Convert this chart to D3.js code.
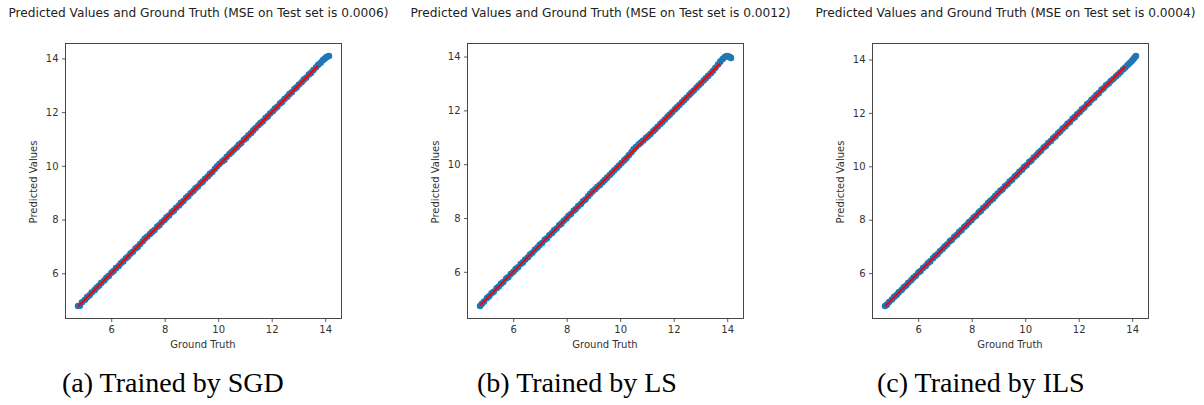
<!DOCTYPE html>
<html>
<head>
<meta charset="utf-8">
<script src="https://cdn.jsdelivr.net/npm/d3@7"></script>
<style>
  html, body { margin: 0; padding: 0; background: #fff; }
  svg { display: block; }
</style>
</head>
<body>
<svg id="fig" width="1204" height="405"></svg>
<script>
// Ground-truth targets of the test set (shared by all three models)
const groundTruth = [
  4.76, 4.83, 4.91, 5.02, 5.10, 5.19, 5.27, 5.38, 5.46, 5.55,
  5.63, 5.74, 5.82, 5.91, 6.01, 6.09, 6.18, 6.28, 6.36, 6.45,
  6.55, 6.63, 6.72, 6.81, 6.91, 6.99, 7.08, 7.18, 7.26, 7.35,
  7.45, 7.53, 7.62, 7.72, 7.80, 7.89, 7.99, 8.07, 8.16, 8.26,
  8.34, 8.43, 8.53, 8.61, 8.70, 8.80, 8.88, 8.97, 9.07, 9.15,
  9.24, 9.34, 9.42, 9.51, 9.61, 9.69, 9.78, 9.88, 9.96, 10.05,
  10.15, 10.23, 10.32, 10.42, 10.50, 10.59, 10.69, 10.77, 10.86, 10.96,
  11.04, 11.13, 11.23, 11.31, 11.40, 11.50, 11.58, 11.67, 11.77, 11.85,
  11.94, 12.04, 12.12, 12.21, 12.31, 12.39, 12.48, 12.58, 12.66, 12.75,
  12.85, 12.93, 13.02, 13.12, 13.20, 13.29, 13.39, 13.47, 13.56, 13.66,
  13.74, 13.83, 13.91, 13.98, 14.04, 14.09, 14.14
];

// Predictions of the model trained by SGD
const predSGD = [
  4.78, 4.79, 4.92, 5.01, 5.11, 5.18, 5.28, 5.37, 5.47, 5.54,
  5.64, 5.73, 5.83, 5.90, 6.02, 6.08, 6.19, 6.27, 6.37, 6.44,
  6.56, 6.62, 6.73, 6.80, 6.92, 6.98, 7.09, 7.19, 7.29, 7.37,
  7.46, 7.54, 7.61, 7.73, 7.79, 7.90, 7.98, 8.08, 8.15, 8.27,
  8.33, 8.44, 8.52, 8.62, 8.69, 8.81, 8.87, 8.98, 9.06, 9.16,
  9.23, 9.35, 9.41, 9.52, 9.60, 9.70, 9.77, 9.89, 9.98, 10.08,
  10.16, 10.22, 10.34, 10.44, 10.51, 10.60, 10.68, 10.78, 10.85, 10.97,
  11.03, 11.14, 11.22, 11.32, 11.41, 11.51, 11.59, 11.66, 11.78, 11.84,
  11.95, 12.03, 12.13, 12.20, 12.32, 12.38, 12.49, 12.57, 12.67, 12.74,
  12.86, 12.92, 13.03, 13.11, 13.21, 13.28, 13.40, 13.46, 13.57, 13.67,
  13.76, 13.84, 13.93, 13.99, 14.04, 14.07, 14.09
];

// Predictions of the model trained by LS
const predLS = [
  4.73, 4.81, 4.90, 5.03, 5.09, 5.20, 5.26, 5.39, 5.45, 5.56,
  5.62, 5.75, 5.81, 5.92, 6.00, 6.10, 6.17, 6.29, 6.35, 6.46,
  6.54, 6.64, 6.71, 6.82, 6.90, 7.00, 7.07, 7.19, 7.25, 7.36,
  7.44, 7.54, 7.61, 7.73, 7.79, 7.90, 7.98, 8.08, 8.15, 8.27,
  8.33, 8.44, 8.52, 8.62, 8.69, 8.81, 8.90, 8.99, 9.08, 9.16,
  9.23, 9.33, 9.41, 9.50, 9.60, 9.68, 9.77, 9.87, 9.95, 10.04,
  10.14, 10.22, 10.33, 10.44, 10.55, 10.64, 10.73, 10.80, 10.88, 10.97,
  11.04, 11.12, 11.22, 11.30, 11.39, 11.49, 11.57, 11.66, 11.76, 11.84,
  11.93, 12.03, 12.11, 12.20, 12.30, 12.38, 12.47, 12.57, 12.65, 12.74,
  12.84, 12.92, 13.01, 13.11, 13.19, 13.28, 13.38, 13.47, 13.58, 13.70,
  13.81, 13.91, 13.98, 14.02, 14.01, 13.98, 13.95
];

// Predictions of the model trained by ILS
const predILS = [
  4.77, 4.82, 4.92, 5.01, 5.11, 5.18, 5.28, 5.37, 5.47, 5.54,
  5.64, 5.73, 5.83, 5.90, 6.02, 6.08, 6.19, 6.27, 6.37, 6.44,
  6.56, 6.64, 6.71, 6.82, 6.90, 7.00, 7.07, 7.19, 7.25, 7.36,
  7.44, 7.54, 7.61, 7.73, 7.79, 7.90, 7.98, 8.08, 8.15, 8.27,
  8.33, 8.44, 8.52, 8.62, 8.71, 8.79, 8.89, 8.98, 9.08, 9.14,
  9.25, 9.33, 9.43, 9.50, 9.62, 9.68, 9.79, 9.87, 9.97, 10.04,
  10.16, 10.22, 10.33, 10.41, 10.51, 10.58, 10.70, 10.76, 10.87, 10.95,
  11.05, 11.12, 11.24, 11.30, 11.41, 11.49, 11.59, 11.66, 11.78, 11.84,
  11.95, 12.03, 12.13, 12.20, 12.32, 12.38, 12.49, 12.57, 12.67, 12.74,
  12.86, 12.92, 13.03, 13.10, 13.19, 13.27, 13.36, 13.44, 13.52, 13.62,
  13.70, 13.79, 13.87, 13.94, 14.01, 14.07, 14.13
];

// Identity reference line (predicted == ground truth)
const refX = [4.76, 13.73];
const refY = [4.76, 13.73];

const tickValues = [6, 8, 10, 12, 14];
const tickLabels = ["6", "8", "10", "12", "14"];

const mseValues = ["0.0006", "0.0012", "0.0004"];
const captions = ["(a) Trained by SGD", "(b) Trained by LS", "(c) Trained by ILS"];
const predictions = [predSGD, predLS, predILS];

const svg = d3.select("#fig");
const sans = "'DejaVu Sans', sans-serif";

const panelLeft = [65.5, 467.5, 872.5];
const captionLeft = [62, 477, 877];
const axTop = 43.5, axW = 276, axH = 275;

// matplotlib-style autoscale: data extent plus 5% margin on each side
function padded(values) {
  const [lo, hi] = d3.extent(values);
  const m = (hi - lo) * 0.05;
  return [lo - m, hi + m];
}

predictions.forEach((pred, i) => {
  const left = panelLeft[i];
  const g = svg.append("g").attr("transform", `translate(${left},${axTop})`);

  const x = d3.scaleLinear().domain(padded(groundTruth)).range([0, axW]);
  const y = d3.scaleLinear().domain(padded(pred)).range([axH, 0]);

  const pts = groundTruth.map((gt, k) => ({ gt, p: pred[k] }));

  // scatter of predictions against ground truth
  g.append("g")
    .selectAll("circle")
    .data(pts)
    .join("circle")
    .attr("cx", d => x(d.gt))
    .attr("cy", d => y(d.p))
    .attr("r", 3.3)
    .attr("fill", "#1f77b4");

  // red identity line
  g.append("path")
    .datum(refX.map((v, k) => [v, refY[k]]))
    .attr("fill", "none")
    .attr("stroke", "#ff0000")
    .attr("stroke-width", 2.1)
    .attr("d", d3.line().x(d => x(d[0])).y(d => y(d[1])));

  // axes
  const xAxis = d3.axisBottom(x).tickValues(tickValues)
    .tickFormat((d, k) => tickLabels[k]).tickSize(3.5).tickPadding(3.5);
  const yAxis = d3.axisLeft(y).tickValues(tickValues)
    .tickFormat((d, k) => tickLabels[k]).tickSize(3.5).tickPadding(3.5);

  const gx = g.append("g").attr("transform", `translate(0,${axH})`).call(xAxis);
  const gy = g.append("g").call(yAxis);
  [gx, gy].forEach(a => {
    a.select(".domain").remove();
    a.selectAll(".tick line").attr("stroke", "#333").attr("stroke-width", 0.8);
    a.selectAll(".tick text").attr("fill", "#333")
      .style("font-family", sans).style("font-size", "10px");
  });

  // frame
  g.append("rect")
    .attr("x", 0).attr("y", 0).attr("width", axW).attr("height", axH)
    .attr("fill", "none").attr("stroke", "#333").attr("stroke-width", 0.9);

  // axis labels
  g.append("text")
    .attr("x", axW / 2 - 0.5).attr("y", axH + 29)
    .attr("text-anchor", "middle")
    .attr("fill", "#333")
    .style("font-family", sans).style("font-size", "10px")
    .text("Ground Truth");

  g.append("text")
    .attr("transform", `translate(-28.5,${axH / 2 + 1}) rotate(-90)`)
    .attr("text-anchor", "middle")
    .attr("fill", "#333")
    .style("font-family", sans).style("font-size", "10px")
    .text("Predicted Values");

  // title
  svg.append("text")
    .attr("x", left + axW / 2 - 5).attr("y", 16.5)
    .attr("text-anchor", "middle")
    .attr("fill", "#222")
    .style("font-family", sans).style("font-size", "12.2px")
    .text(`Predicted Values and Ground Truth (MSE on Test set is ${mseValues[i]})`);

  // caption
  svg.append("text")
    .attr("x", captionLeft[i]).attr("y", 391.5)
    .attr("fill", "#000")
    .style("font-family", "'Liberation Serif', serif").style("font-size", "28px")
    .text(captions[i]);
});
</script>
</body>
</html>
